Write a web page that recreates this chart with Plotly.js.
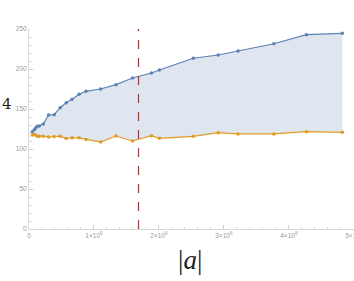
<!DOCTYPE html>
<html><head><meta charset="utf-8">
<script src="https://cdn.plot.ly/plotly-3.0.1.min.js"></script>
<style>html,body{margin:0;padding:0;background:#fff}#c{width:354px;height:281px}</style>
</head><body><div id="c"></div>
<script>
const xs = [0.051e6,0.081e6,0.103e6,0.127e6,0.158e6,0.219e6,0.302e6,0.388e6,0.480e6,0.572e6,0.664e6,0.771e6,0.878e6,1.103e6,1.338e6,1.594e6,1.885e6,2.008e6,2.529e6,2.912e6,3.218e6,3.770e6,4.271e6,4.823e6];
const upper = [121.6,124.1,126.3,128.4,128.8,131.3,142.5,142.9,151.6,157.9,162.1,168.4,172.1,175,180.4,188.8,195,198.8,213.4,217.5,222.5,231.6,242.9,244.6];
const lower = [117.5,118,117.5,116,116,116,115,115.5,116,113,114,114,112,108.7,116.2,110,116.6,113.4,115.9,120.4,118.8,118.8,121.6,120.9];
const markerX = 1.686e6;
const xTickVals = [0,1e6,2e6,3e6,4e6,5e6];
const xTickText = ['0','1×10<sup>6</sup>','2×10<sup>6</sup>','3×10<sup>6</sup>','4×10<sup>6</sup>','5×10<sup>6</sup>'];
const yTickVals = [0,50,100,150,200,250];
const yTickText = ['0','50','100','150','200','250'];

const traces = [
  {x: xs, y: lower, mode:'lines+markers', line:{color:'#e19c24', width:1.2}, marker:{color:'#e19c24', size:3.5}, hoverinfo:'none'},
  {x: xs, y: upper, mode:'lines+markers', fill:'tonexty', fillcolor:'rgba(94,129,181,0.2)', line:{color:'#5e81b5', width:1.2}, marker:{color:'#5e81b5', size:3.5}, hoverinfo:'none'}
];
const axisCommon = {showgrid:false, zeroline:false, showline:true, linecolor:'#d9d9d9', linewidth:1, ticks:'inside', ticklen:4, tickcolor:'#cfcfcf', tickfont:{family:'Liberation Sans, Arial', size:6.5, color:'#9a9a9a'}, tickmode:'array', ticklabeloverflow:'allow'};
const layout = {
  width:354, height:281, margin:{l:29, r:0, t:29, b:51.5},
  paper_bgcolor:'#fff', plot_bgcolor:'#fff', showlegend:false,
  xaxis: Object.assign({}, axisCommon, {range:[0,5.003e6], tickvals:xTickVals, ticktext:xTickText,
    minor:{dtick:2e5, ticks:'inside', ticklen:2.5, tickcolor:'#d9d9d9', showgrid:false}}),
  yaxis: Object.assign({}, axisCommon, {range:[0,250], tickvals:yTickVals, ticktext:yTickText,
    minor:{dtick:10, ticks:'inside', ticklen:2.5, tickcolor:'#d9d9d9', showgrid:false}}),
  shapes:[{type:'line', xref:'x', yref:'y', x0:markerX, x1:markerX, y0:0, y1:250, line:{color:'#b8302a', width:1.2, dash:'dash'}}],
  annotations:[
    {text:'4', xref:'paper', yref:'paper', x:-0.09, y:0.625, xanchor:'left', yanchor:'middle', showarrow:false, font:{family:'DejaVu Serif, Liberation Serif', size:15, color:'#222'}},
    {text:'|<i>a</i>|', xref:'paper', yref:'paper', x:0.495, y:-0.07, xanchor:'center', yanchor:'top', showarrow:false, font:{family:'Liberation Serif, DejaVu Serif', size:27, color:'#222'}}
  ]
};
Plotly.newPlot('c', traces, layout, {staticPlot:true, displayModeBar:false});
</script></body></html>
